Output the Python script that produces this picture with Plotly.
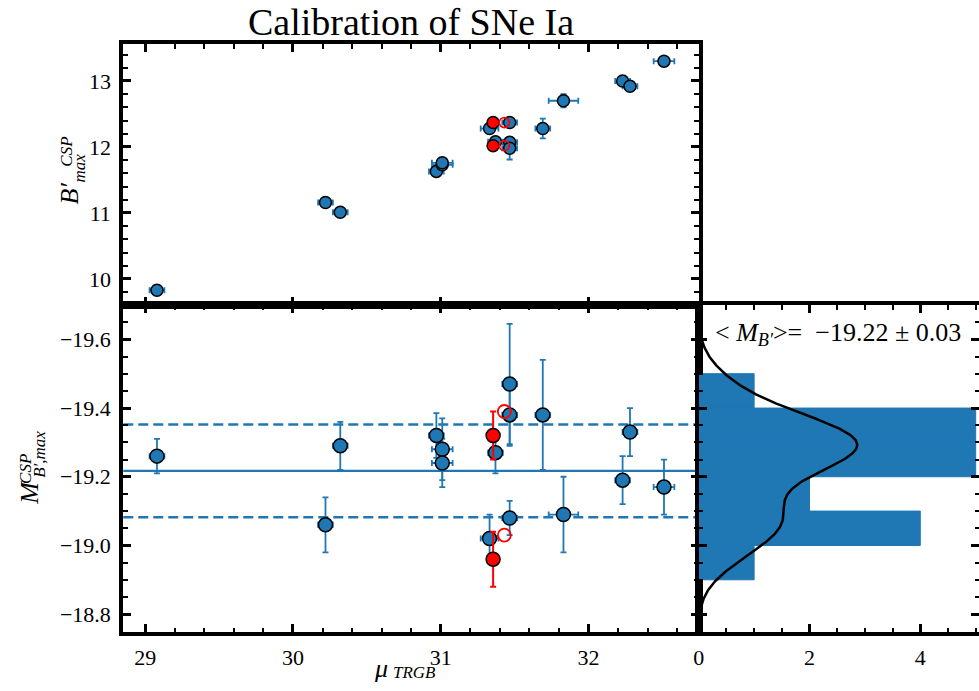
import numpy as np
import plotly.graph_objects as go

# ---------------- data ----------------
mu = [29.08, 30.22, 30.32, 30.97, 31.01, 31.01, 31.33, 31.37, 31.466, 31.466,
      31.466, 31.69, 31.83, 32.23, 32.28, 32.51]
mu_err = [0.05, 0.05, 0.05, 0.05, 0.07, 0.07, 0.06, 0.05, 0.05, 0.05,
          0.05, 0.05, 0.10, 0.05, 0.05, 0.07]
B = [9.83, 11.16, 11.01, 11.63, 11.73, 11.76, 12.28, 12.08, 12.37, 12.07,
     11.98, 12.28, 12.70, 13.00, 12.92, 13.30]
B_err = [0.03, 0.03, 0.03, 0.03, 0.05, 0.03, 0.03, 0.03, 0.03, 0.03,
         0.17, 0.15, 0.10, 0.03, 0.03, 0.03]
M = [-19.26, -19.06, -19.29, -19.32, -19.28, -19.24, -19.02, -19.27, -19.08, -19.38,
     -19.47, -19.38, -19.09, -19.19, -19.33, -19.17]
M_err = [0.05, 0.08, 0.07, 0.065, 0.09, 0.07, 0.07, 0.06, 0.05, 0.09,
         0.175, 0.16, 0.11, 0.07, 0.07, 0.08]

red_mu = [31.354, 31.354]
red_B = [12.37, 12.02]
red_M = [-18.96, -19.32]
red_M_err = [0.08, 0.07]

open_mu = [31.43, 31.43]
open_B = [12.37, 12.02]
open_M = [-19.03, -19.39]

mean_M = -19.217
sigma_M = 0.135
hist_edges = [-19.5, -19.4, -19.3, -19.2, -19.1, -19.0, -18.9]
kde_bw_factor = 0.48

x_ticks_mu = [29, 30, 31, 32]
label_text = "&lt; <i>M</i><sub><i>B′</i></sub>&gt;=  −19.22 ± 0.03"
title_text = "Calibration of SNe Ia"

# ---------------- derived ----------------
allM = np.array(M + red_M)
counts, edges = np.histogram(allM, bins=np.array(hist_edges))
centers = 0.5 * (edges[:-1] + edges[1:])

n = len(allM)
bw = allM.std(ddof=1) * kde_bw_factor
grid = np.linspace(-19.72, -18.74, 400)
dens = np.exp(-0.5 * ((grid[:, None] - allM[None, :]) / bw) ** 2).sum(axis=1) / (n * bw * np.sqrt(2 * np.pi))

BLUE = "#1f77b4"
FONT = "Liberation Serif"
W, H = 979, 691


def px(x):
    return x / W


def py(y):
    return 1 - y / H


fig = go.Figure()

# top panel
fig.add_trace(go.Scatter(
    x=mu, y=B, mode="markers", xaxis="x", yaxis="y",
    marker=dict(size=12, color=BLUE, line=dict(color="black", width=1.5)),
    error_x=dict(type="data", array=mu_err, color=BLUE, thickness=1.8, width=3),
    error_y=dict(type="data", array=B_err, color=BLUE, thickness=1.8, width=3),
))
fig.add_trace(go.Scatter(
    x=red_mu, y=red_B, mode="markers", xaxis="x", yaxis="y",
    marker=dict(size=12, color="red", line=dict(color="black", width=1.5)),
))
fig.add_trace(go.Scatter(
    x=open_mu, y=open_B, mode="markers", xaxis="x", yaxis="y",
    marker=dict(size=10, color="rgba(0,0,0,0)", line=dict(color="red", width=1.8)),
))

# bottom panel
fig.add_trace(go.Scatter(
    x=mu, y=M, mode="markers", xaxis="x2", yaxis="y2",
    marker=dict(size=14, color=BLUE, line=dict(color="black", width=1.5)),
    error_x=dict(type="data", array=mu_err, color=BLUE, thickness=1.8, width=3),
    error_y=dict(type="data", array=M_err, color=BLUE, thickness=1.8, width=3),
))
fig.add_trace(go.Scatter(
    x=red_mu, y=red_M, mode="markers", xaxis="x2", yaxis="y2",
    marker=dict(size=14, color="red", line=dict(color="black", width=1.5)),
    error_y=dict(type="data", array=red_M_err, color="red", thickness=2, width=3),
))
fig.add_trace(go.Scatter(
    x=open_mu, y=open_M, mode="markers", xaxis="x2", yaxis="y2",
    marker=dict(size=13, color="rgba(0,0,0,0)", line=dict(color="red", width=1.8)),
))

# histogram panel
fig.add_trace(go.Bar(
    x=counts, y=centers, orientation="h", width=np.diff(edges),
    marker=dict(color=BLUE, line=dict(width=1, color=BLUE)), xaxis="x3", yaxis="y3",
))
fig.add_trace(go.Scatter(
    x=dens, y=grid, mode="lines", xaxis="x3", yaxis="y3",
    line=dict(color="black", width=2.5),
))

common = dict(
    showline=True, linewidth=4, linecolor="black", mirror="ticks",
    ticks="inside", ticklen=8, tickwidth=2.5, tickcolor="black",
    showgrid=False, zeroline=False,
    tickfont=dict(family=FONT, size=22, color="black"),
)


def minor(dt):
    return dict(ticks="inside", ticklen=4.5, tickwidth=1.5, tickcolor="black", dtick=dt, showgrid=False)


xdom_main = [px(118), px(697)]
xdom_hist = [px(697), 1.0]
ydom_top = [py(305), py(44)]
ydom_bot = [py(632), py(305)]
yr_bot = [-18.748, -19.70]

hist_y_common = {k: v for k, v in common.items() if k != "mirror"}

fig.update_layout(
    width=W, height=H, margin=dict(l=0, r=0, t=0, b=0),
    plot_bgcolor="white", paper_bgcolor="white", showlegend=False,
    xaxis=dict(domain=xdom_main, anchor="y", range=[28.852, 32.745], tickvals=x_ticks_mu,
               showticklabels=False, minor=minor(0.2), **common),
    yaxis=dict(domain=ydom_top, anchor="x", range=[9.606, 13.56], dtick=1, tick0=0,
               minor=minor(0.2), ticklabelstandoff=4, **common),
    xaxis2=dict(domain=xdom_main, anchor="y2", range=[28.852, 32.745], tickvals=x_ticks_mu,
                minor=minor(0.2), ticklabelstandoff=3, **common),
    yaxis2=dict(domain=ydom_bot, anchor="x2", range=yr_bot, dtick=0.2, tick0=-19.0,
                tickformat=".1f", minor=minor(0.05), ticklabelstandoff=4, **common),
    xaxis3=dict(domain=xdom_hist, anchor="y3", range=[0, 5.06], dtick=2, tick0=0,
                minor=minor(0.5), ticklabelstandoff=3, **common),
    yaxis3=dict(domain=ydom_bot, anchor="x3", range=yr_bot, dtick=0.2, tick0=-19.0,
                showticklabels=False, minor=minor(0.05), mirror=False,
                **hist_y_common),
    yaxis4=dict(overlaying="y3", side="right", anchor="x3", range=yr_bot, dtick=0.2, tick0=-19.0,
                showticklabels=False, showline=False, showgrid=False, zeroline=False,
                ticks="inside", ticklen=8, tickwidth=2.5, tickcolor="black",
                minor=minor(0.05)),
)

# empty trace to activate yaxis4 (right-side ticks of the histogram panel)
fig.add_trace(go.Scatter(x=[None], y=[None], xaxis="x3", yaxis="y4", showlegend=False,
                         hoverinfo="skip"))

# horizontal lines
fig.add_shape(type="line", xref="x2 domain", yref="y2", x0=0, x1=1, y0=mean_M, y1=mean_M,
              line=dict(color=BLUE, width=2.2), layer="below")
for s in (-1, 1):
    yv = mean_M + s * sigma_M
    fig.add_shape(type="line", xref="x2 domain", yref="y2", x0=0, x1=1, y0=yv, y1=yv,
                  line=dict(color=BLUE, width=2.5, dash="10px,5px"), layer="below")

ann = []
ann.append(dict(text=title_text, x=px(408), y=py(22), xref="paper", yref="paper",
                showarrow=False, xanchor="center", yanchor="middle",
                font=dict(family=FONT, size=38, color="black")))
ann.append(dict(text=label_text, x=px(711), y=py(334), xref="paper", yref="paper",
                showarrow=False, xanchor="left", yanchor="middle",
                font=dict(family=FONT, size=26, color="black")))
# x label
ann.append(dict(text="<i>μ</i>", x=px(377), y=py(668), xref="paper", yref="paper",
                showarrow=False, xanchor="center", yanchor="middle",
                font=dict(family=FONT, size=26, color="black")))
ann.append(dict(text="<i>TRGB</i>", x=px(411), y=py(672), xref="paper", yref="paper",
                showarrow=False, xanchor="center", yanchor="middle",
                font=dict(family=FONT, size=17, color="black")))
# top y label
for t, x, y, s in [("<i>B′</i>", 64, 194, 26), ("<i>CSP</i>", 61, 152, 17), ("<i>max</i>", 73, 168, 17)]:
    ann.append(dict(text=t, x=px(x), y=py(y), xref="paper", yref="paper", textangle=-90,
                    showarrow=False, xanchor="center", yanchor="middle",
                    font=dict(family=FONT, size=s, color="black")))
# bottom y label
for t, x, y, s in [("<i>M</i>", 23, 493, 26), ("<i>CSP</i>", 19, 469, 17), ("<i>B′,max</i>", 33, 454, 17)]:
    ann.append(dict(text=t, x=px(x), y=py(y), xref="paper", yref="paper", textangle=-90,
                    showarrow=False, xanchor="center", yanchor="middle",
                    font=dict(family=FONT, size=s, color="black")))
fig.update_layout(annotations=ann)

fig.write_html("out.html")
